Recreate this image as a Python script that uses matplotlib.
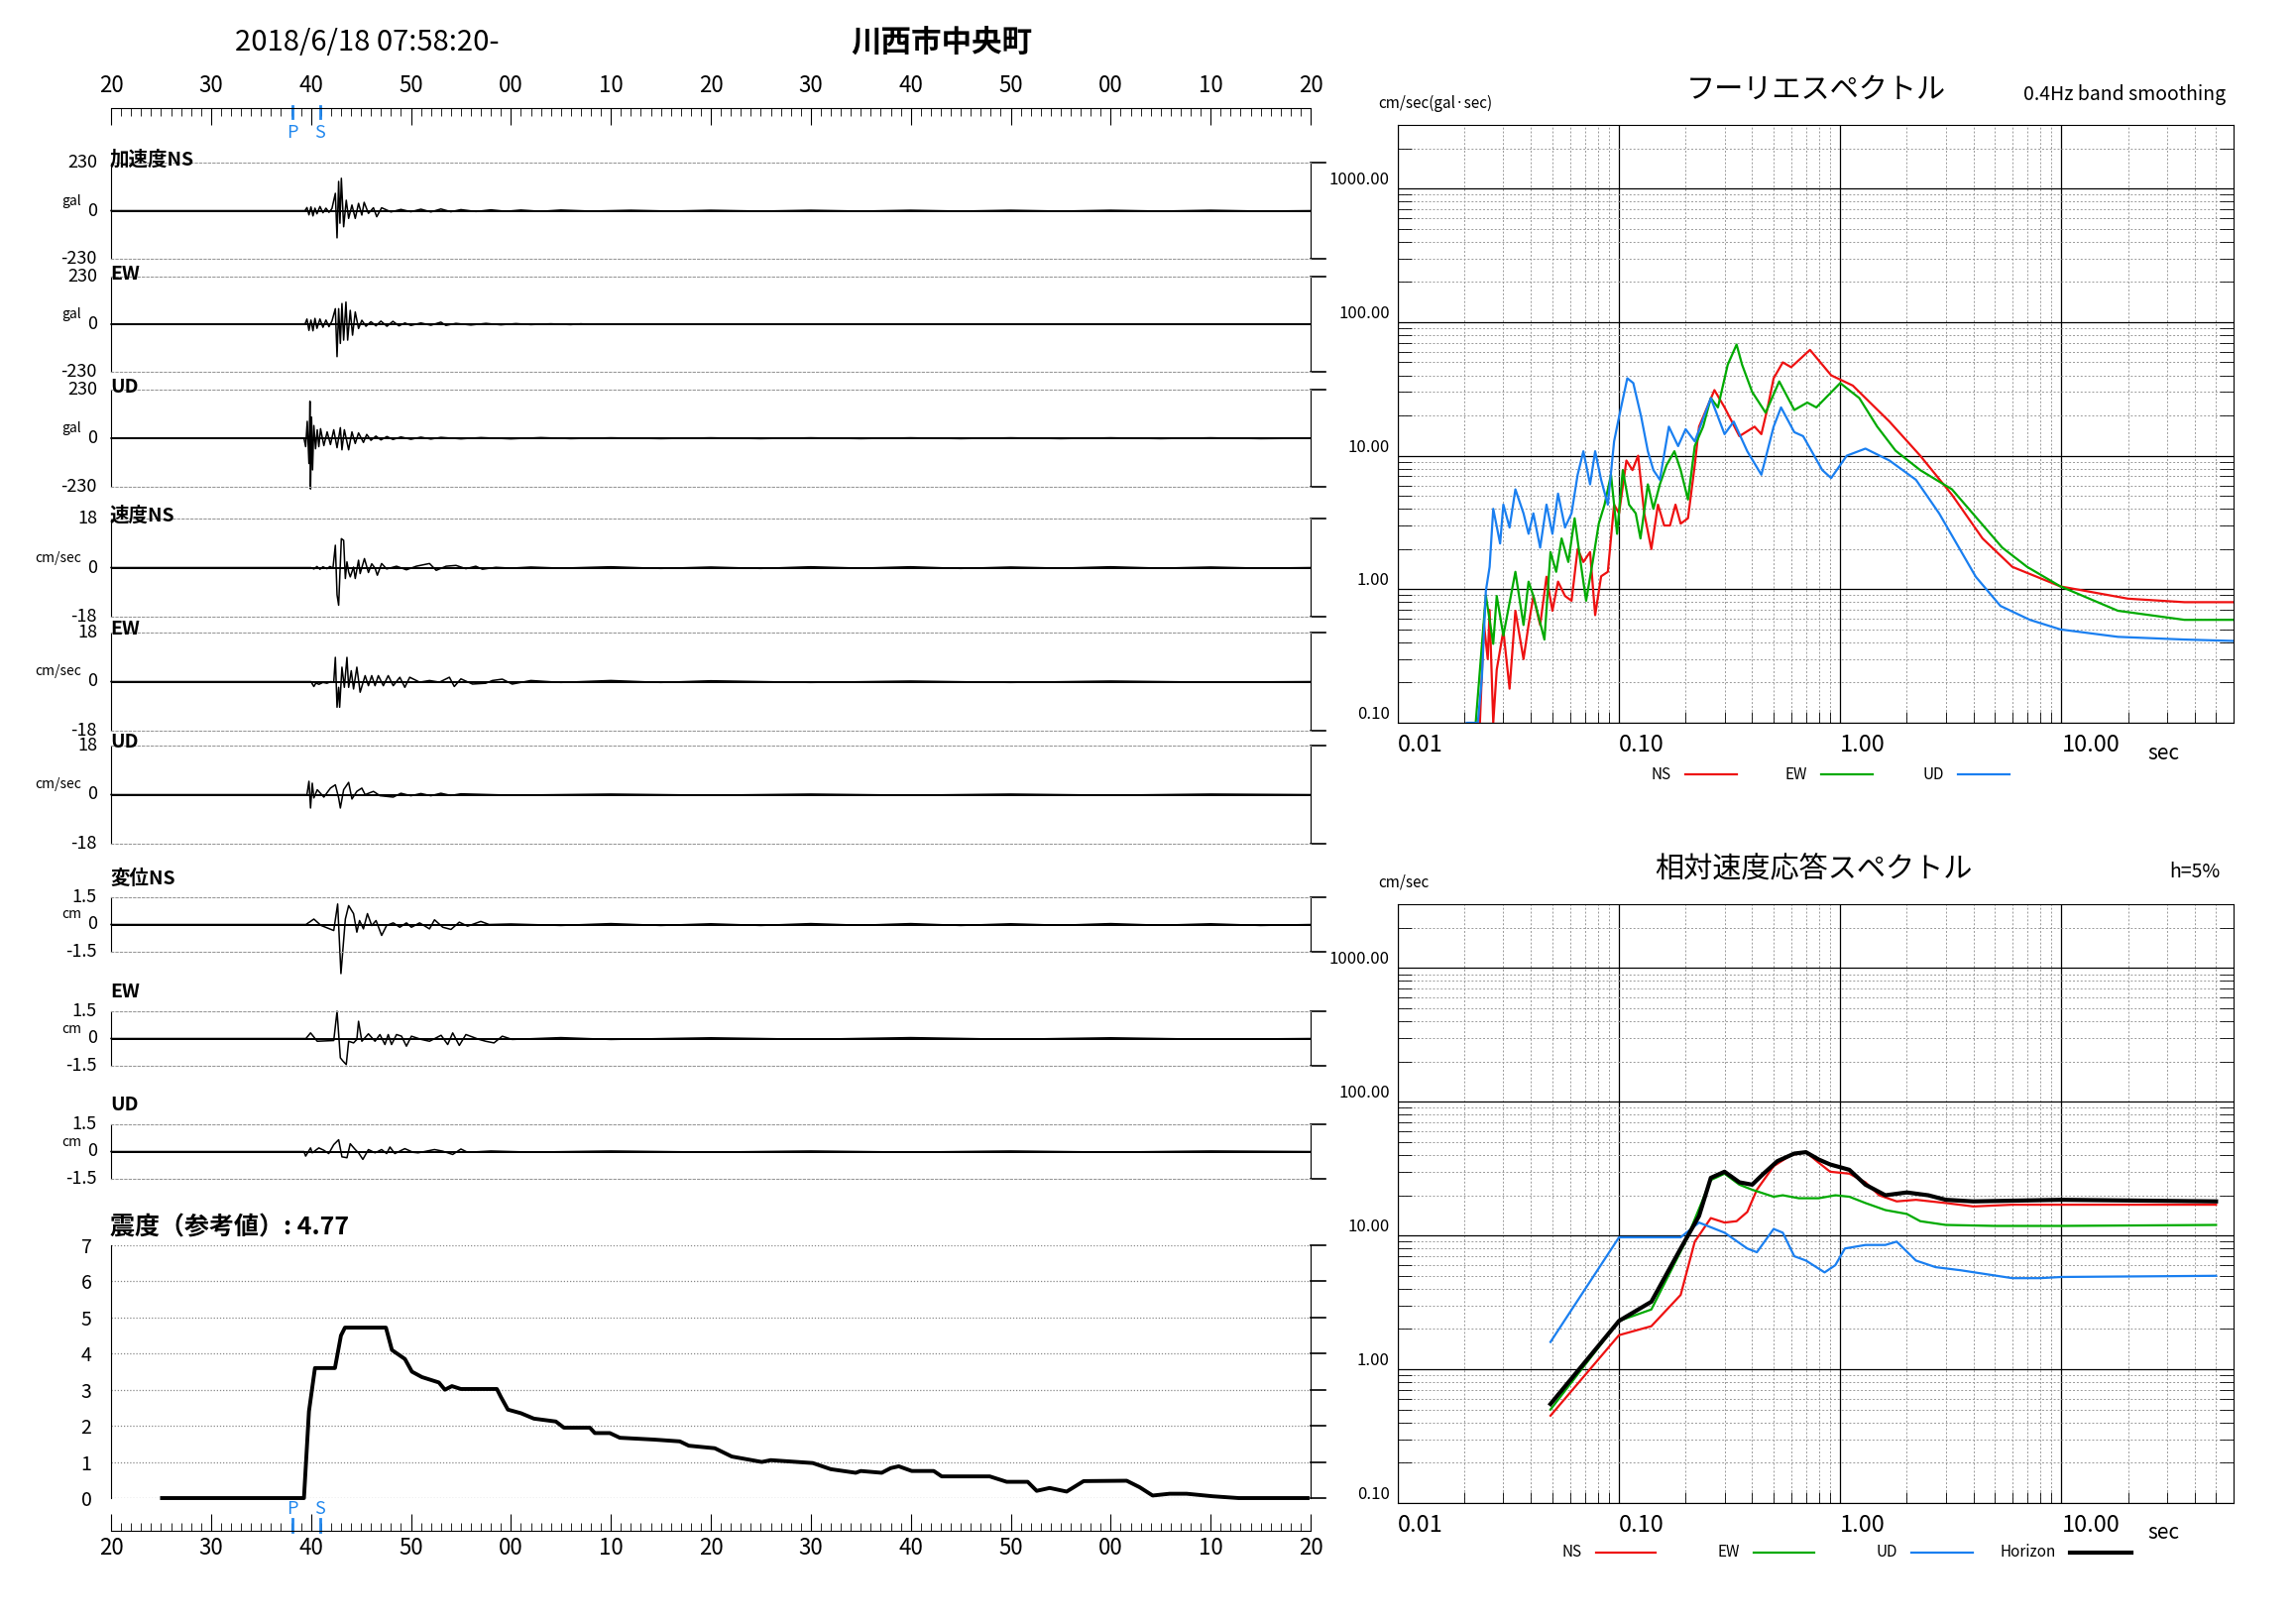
import matplotlib
matplotlib.use("Agg")
import matplotlib.pyplot as plt
import numpy as np
from matplotlib.lines import Line2D

plt.rcParams['font.family'] = ['Noto Sans CJK JP', 'DejaVu Sans']

W, H = 2316, 1637
RED, GREEN, BLUE = '#ee1111', '#00aa00', '#1a7ff0'
PSBLUE = '#2288ee'

# ---------------- data ----------------
time_labels = ["20", "30", "40", "50", "00", "10", "20", "30", "40", "50", "00", "10", "20"]
time_ticks = [0, 10, 20, 30, 40, 50, 60, 70, 80, 90, 100, 110, 120]
p_time, s_time = 18.1, 20.9

acc_ns_t = [0, 19.4, 19.6, 19.8, 20.0, 20.2, 20.4, 20.6, 20.9, 21.2, 21.5, 21.8, 22.1, 22.44, 22.61, 22.77, 22.9, 23.04, 23.27, 23.53, 23.77, 24.1, 24.43, 24.76, 25.09, 25.32, 25.75, 26.25, 26.58, 27.07, 28, 29, 30, 31, 32, 33, 34, 35, 36.5, 38, 39.5, 41, 43, 45, 48, 52, 56, 60, 65, 70, 75, 80, 85, 90, 95, 100, 105, 110, 115, 120]
acc_ns_v = [0, 0, 15, -20, 18, -25, 12, -15, 20, -10, 12, -8, 10, 83, -130, 140, -60, 155, -77, 50, -37, 27, -37, 35, -21, 40, -13, 14, -29, 14, -6, 6, -5, 7, -6, 8, -5, 5, -4, 4, -3, 3, -3, 3, -2, 2, -2, 2, -2, 2, -2, 2, -2, 2, -2, 2, -2, 2, -2, 0]

acc_ew_t = [0, 19.4, 19.6, 19.8, 20.0, 20.2, 20.4, 20.6, 20.9, 21.2, 21.5, 21.8, 22.1, 22.44, 22.61, 22.77, 22.94, 23.1, 23.27, 23.5, 23.67, 23.93, 24.16, 24.43, 24.76, 25.09, 25.5, 26, 26.5, 27, 27.6, 28.2, 28.8, 29.4, 30, 31, 32, 33, 33.5, 34.5, 36, 37.5, 39, 40.5, 42, 44, 46, 47, 48, 49, 120]
acc_ew_v = [0, 0, 25, -30, 20, -32, 28, -20, 25, -15, 20, -12, 15, 75, -157, 75, -93, 100, -77, 107, -77, 67, -53, 59, -21, 19, -10, 12, -8, 15, -10, 14, -8, 6, -6, 6, -5, 10, -6, 4, -4, 4, -3, 3, -2, 2, -2, 2, -1, 0, 0]

acc_ud_t = [0, 19.3, 19.47, 19.63, 19.8, 19.9, 19.96, 20.06, 20.16, 20.29, 20.46, 20.63, 20.79, 20.96, 21.29, 21.62, 21.95, 22.28, 22.61, 22.94, 23.1, 23.34, 23.77, 24.1, 24.43, 24.76, 25.25, 25.58, 26, 26.5, 27, 27.6, 28.2, 29, 30, 31, 32, 33, 35, 37, 40, 43, 46, 50, 55, 60, 65, 70, 75, 80, 85, 90, 95, 100, 105, 110, 115, 120]
acc_ud_v = [0, 0, -40, 80, -120, 175, -240, 100, -150, 60, -50, 40, -40, 45, -35, 30, -30, 40, -45, 50, -55, 40, -55, 30, -25, 25, -20, 18, -10, 10, -8, 8, -6, 6, -5, 5, -4, 4, -3, 3, -3, 3, -2, 2, -2, 2, -2, 2, -2, 2, -2, 2, -2, 2, -2, 2, -2, 0]

vel_ns_t = [0, 20.0, 20.3, 20.6, 20.9, 21.2, 21.6, 21.9, 22.2, 22.44, 22.61, 22.77, 23.04, 23.27, 23.44, 23.6, 23.77, 23.93, 24.26, 24.43, 24.76, 24.92, 25.35, 25.75, 26.08, 26.41, 26.64, 27.07, 27.57, 28.56, 29.55, 30.54, 31.86, 32.53, 33.52, 34.51, 35.5, 36.49, 37.15, 38.5, 40, 42, 45, 50, 55, 60, 65, 70, 75, 80, 85, 90, 95, 100, 105, 110, 115, 120]
vel_ns_v = [0, 0, -0.5, 0.4, -0.6, 0.3, -0.4, 0.4, -0.2, 8.2, -10, -13.8, 10.6, 10, -4, 2.1, -1.6, -3.4, 0.2, -4, 2.7, -2.2, 3.3, -1.8, 1.4, -0.2, -2.8, 1.5, -0.5, 0.5, -0.8, 0.5, 1.5, -1.0, 0.5, 0.8, -0.4, 0.5, -0.6, 0.1, -0.2, 0.2, -0.2, 0.3, -0.3, 0.2, -0.3, 0.3, -0.2, 0.3, -0.3, 0.2, -0.2, 0.3, -0.2, 0.2, -0.2, 0]

vel_ew_t = [0, 20.0, 20.29, 20.5, 20.8, 21.2, 21.6, 22.0, 22.28, 22.44, 22.61, 22.77, 22.87, 23.1, 23.34, 23.6, 23.77, 24.03, 24.26, 24.59, 24.92, 25.42, 25.75, 26.08, 26.41, 26.74, 27.24, 27.73, 28.23, 28.89, 29.39, 29.88, 30.87, 31.86, 32.86, 33.85, 34.34, 35.0, 36.16, 37.48, 38.15, 39.14, 40.13, 42, 45, 50, 55, 60, 70, 80, 90, 100, 110, 120]
vel_ew_v = [0, 0, -1.8, -0.5, -1.0, -0.3, -0.6, 0, -0.2, 8.9, -9.4, -2.1, -9.4, 5.3, -2.1, 8.9, -2.1, 4.0, -2.7, 5.3, -3.9, 2.2, -1.5, 2.2, -1.5, 2.2, -1.5, 2.2, -1.5, 1.6, -2.1, 1.6, -0.2, 0.4, -0.2, 1.6, -1.8, 1.0, -0.9, -0.6, 0.4, 0.9, -0.9, 0.4, -0.3, 0.4, -0.3, 0.3, -0.3, 0.2, -0.3, 0.2, -0.2, 0]

vel_ud_t = [0, 19.6, 19.8, 19.96, 20.13, 20.29, 20.63, 21.29, 21.95, 22.44, 22.77, 22.94, 23.27, 23.77, 24.1, 24.59, 25.09, 25.42, 26.25, 26.9, 28.23, 29, 30, 31, 32, 33, 34, 35, 40, 50, 60, 70, 80, 90, 100, 110, 120]
vel_ud_v = [0, 0, 4.9, -4.9, 4.2, -1.2, 1.8, -0.9, 2.4, 3.6, -1.2, -4.9, 1.8, 4.5, -1.6, 1.2, 2.4, 0, 1.2, -0.4, -0.9, 0.5, -0.4, 0.4, -0.4, 0.5, -0.3, 0.3, -0.2, 0.2, -0.2, 0.2, -0.2, 0.2, -0.2, 0.2, 0]

dis_ns_t = [0, 19.5, 20.29, 21.0, 22.28, 22.67, 23.0, 23.44, 23.77, 24.26, 24.59, 24.86, 25.25, 25.65, 26.08, 26.51, 27.07, 27.57, 28.23, 28.89, 29.55, 30.05, 30.87, 31.86, 32.36, 33.19, 34.01, 34.84, 35.67, 36.99, 37.82, 40, 45, 50, 55, 60, 65, 70, 75, 80, 85, 90, 95, 100, 105, 110, 115, 120]
dis_ns_v = [0, 0, 0.3, -0.05, -0.33, 1.13, -2.7, 0.3, 1.04, 0.6, -0.42, 0.22, -0.24, 0.6, -0.06, 0.22, -0.6, -0.05, 0.09, -0.15, 0.09, -0.15, 0.09, -0.24, 0.26, -0.15, -0.27, 0.13, -0.09, 0.17, 0, 0.03, -0.05, 0.05, -0.05, 0.04, -0.05, 0.05, -0.04, 0.05, -0.05, 0.04, -0.04, 0.05, -0.04, 0.04, -0.05, 0]

dis_ew_t = [0, 19.5, 19.96, 20.63, 22.28, 22.61, 22.94, 23.2, 23.53, 23.77, 24.26, 24.59, 24.76, 25.09, 25.75, 26.41, 26.9, 27.4, 27.73, 28.06, 28.56, 29.06, 29.55, 30.05, 31.04, 31.86, 33.02, 33.68, 34.18, 34.84, 35.5, 36.82, 37.48, 38.31, 39.14, 40.13, 45, 50, 60, 70, 80, 90, 100, 110, 120]
dis_ew_v = [0, 0, 0.31, -0.15, -0.11, 1.5, -1.06, -1.24, -1.43, -0.15, -0.24, -0.05, 0.95, -0.15, 0.26, -0.15, 0.22, -0.33, 0.22, -0.33, 0.22, 0.13, -0.42, 0.13, -0.05, -0.15, 0.18, -0.33, 0.31, -0.38, 0.22, -0.05, -0.15, -0.24, 0.13, -0.05, 0.05, -0.05, 0.04, -0.04, 0.05, -0.04, 0.04, -0.04, 0]

dis_ud_t = [0, 19.3, 19.47, 19.96, 20.13, 20.79, 21.29, 21.78, 22.28, 22.77, 23.1, 23.6, 23.93, 24.43, 24.76, 25.19, 25.75, 26.41, 27.07, 27.57, 27.9, 28.39, 29.39, 30.21, 30.71, 32.36, 33.19, 34.18, 35.0, 35.67, 38, 42, 50, 60, 70, 80, 90, 100, 110, 120]
dis_ud_v = [0, 0, -0.25, 0.2, -0.07, 0.2, 0.07, -0.11, 0.38, 0.65, -0.29, -0.34, 0.43, 0.11, -0.07, -0.43, 0.11, -0.07, 0.11, -0.11, 0.25, -0.11, 0.16, -0.04, -0.07, 0.11, 0.02, -0.16, 0.14, -0.04, 0.03, -0.03, 0.03, -0.03, 0.03, -0.03, 0.03, -0.03, 0.03, 0]

int_t = [5.1, 19.3, 19.8, 20.4, 22.4, 23.0, 23.4, 27.5, 28.1, 29.4, 30.1, 31.1, 32.8, 33.4, 34.1, 35.0, 38.6, 39.0, 39.7, 41.0, 42.3, 44.5, 45.3, 47.9, 48.4, 49.9, 50.9, 54.3, 56.9, 57.8, 60.4, 62.1, 65.1, 66.0, 70.2, 72.0, 74.5, 75.0, 77.1, 78.0, 78.8, 80.1, 82.3, 83.1, 87.9, 89.6, 91.7, 92.6, 93.9, 95.6, 97.3, 101.6, 102.9, 104.2, 105.9, 107.6, 110.2, 112.8, 119.7]
int_v = [0, 0, 2.4, 3.6, 3.6, 4.5, 4.72, 4.72, 4.1, 3.85, 3.5, 3.35, 3.2, 3.0, 3.1, 3.02, 3.02, 2.8, 2.45, 2.35, 2.2, 2.12, 1.95, 1.95, 1.8, 1.8, 1.67, 1.62, 1.57, 1.45, 1.38, 1.15, 1.0, 1.05, 0.97, 0.8, 0.7, 0.75, 0.7, 0.83, 0.88, 0.75, 0.75, 0.6, 0.6, 0.45, 0.45, 0.2, 0.28, 0.18, 0.47, 0.48, 0.3, 0.07, 0.12, 0.12, 0.05, 0.0, 0.0]

fs_ns_T = [0.0235, 0.0245, 0.0255, 0.026, 0.027, 0.028, 0.030, 0.032, 0.034, 0.037, 0.039, 0.041, 0.044, 0.047, 0.050, 0.053, 0.057, 0.061, 0.065, 0.069, 0.074, 0.078, 0.083, 0.089, 0.095, 0.100, 0.108, 0.115, 0.122, 0.130, 0.140, 0.150, 0.160, 0.170, 0.180, 0.190, 0.205, 0.220, 0.230, 0.270, 0.300, 0.350, 0.410, 0.440, 0.470, 0.500, 0.550, 0.600, 0.730, 0.910, 1.14, 1.67, 2.3, 3.2, 4.4, 6.0, 9.9, 20, 36, 60]
fs_ns_V = [0.1, 0.55, 0.3, 0.7, 0.1, 0.25, 0.49, 0.18, 0.69, 0.3, 0.54, 0.89, 0.54, 1.24, 0.69, 1.14, 0.89, 0.82, 2.0, 1.6, 1.9, 0.64, 1.25, 1.35, 4.3, 3.7, 9.2, 7.8, 10, 3.7, 2.0, 4.3, 3.0, 3.0, 4.3, 3.1, 3.4, 8.5, 16.5, 31, 23, 14, 16.5, 14.5, 23, 38, 50, 46, 62, 40, 33.5, 18, 10, 5.1, 2.4, 1.47, 1.05, 0.85, 0.8, 0.8]

fs_ew_T = [0.0225, 0.025, 0.027, 0.028, 0.030, 0.034, 0.037, 0.039, 0.041, 0.046, 0.049, 0.052, 0.055, 0.059, 0.063, 0.067, 0.071, 0.076, 0.081, 0.086, 0.092, 0.098, 0.104, 0.111, 0.119, 0.125, 0.135, 0.143, 0.153, 0.164, 0.178, 0.19, 0.205, 0.22, 0.24, 0.26, 0.28, 0.31, 0.34, 0.36, 0.40, 0.46, 0.53, 0.62, 0.71, 0.78, 1.0, 1.22, 1.47, 1.78, 2.3, 3.2, 5.4, 7.0, 9.9, 18, 36, 60]
fs_ew_V = [0.1, 0.9, 0.39, 0.89, 0.45, 1.35, 0.54, 1.14, 0.89, 0.42, 1.9, 1.35, 2.4, 1.6, 3.4, 1.6, 0.82, 1.6, 3.1, 4.3, 7.2, 2.6, 7.8, 4.3, 3.7, 2.4, 6.1, 4.0, 6.1, 8.5, 10.8, 7.8, 4.7, 11.8, 16.5, 27, 23, 48, 68, 48, 30, 21, 36, 22, 25, 23, 35, 27, 16.5, 10.9, 7.8, 5.6, 2.05, 1.47, 1.05, 0.69, 0.59, 0.59]

fs_ud_T = [0.0205, 0.023, 0.024, 0.025, 0.026, 0.027, 0.029, 0.030, 0.032, 0.034, 0.037, 0.039, 0.041, 0.044, 0.047, 0.050, 0.053, 0.057, 0.061, 0.065, 0.069, 0.074, 0.078, 0.083, 0.089, 0.095, 0.100, 0.109, 0.116, 0.126, 0.135, 0.143, 0.153, 0.168, 0.185, 0.20, 0.22, 0.26, 0.30, 0.33, 0.38, 0.44, 0.50, 0.54, 0.62, 0.68, 0.83, 0.91, 1.07, 1.3, 1.67, 2.2, 2.8, 4.1, 5.3, 7.2, 9.9, 18, 36, 60]
fs_ud_V = [0.1, 0.1, 0.22, 0.97, 1.47, 4.0, 2.2, 4.3, 2.9, 5.6, 3.7, 2.6, 3.7, 2.05, 4.3, 2.6, 5.2, 2.9, 3.7, 7.2, 10.8, 6.1, 10.8, 6.6, 4.3, 12.8, 19.5, 38, 35, 19.5, 10.8, 7.8, 6.6, 16.5, 11.8, 15.8, 12.8, 27, 14.5, 18, 10.8, 7.2, 16.5, 23, 15, 14, 7.8, 6.8, 10, 11.3, 9.2, 6.6, 3.7, 1.24, 0.75, 0.59, 0.5, 0.44, 0.42, 0.41]

rs_ns_T = [0.049, 0.1, 0.14, 0.19, 0.22, 0.26, 0.3, 0.34, 0.38, 0.42, 0.5, 0.6, 0.7, 0.8, 0.9, 1.1, 1.3, 1.5, 1.8, 2.2, 3, 4, 6, 10, 50]
rs_ns_V = [0.45, 1.8, 2.1, 3.6, 9, 13.5, 12.5, 12.8, 15, 22, 33, 40, 42, 35, 30, 29, 25, 20, 18, 18.5, 17.5, 16.5, 17, 17, 17]
rs_ew_T = [0.049, 0.1, 0.14, 0.2, 0.26, 0.3, 0.35, 0.4, 0.5, 0.55, 0.65, 0.8, 0.95, 1.1, 1.3, 1.6, 2.0, 2.3, 3, 5, 10, 50]
rs_ew_V = [0.5, 2.3, 2.8, 9, 26, 29, 24, 22, 19.5, 20, 19, 19, 20, 19.5, 17.5, 15.5, 14.5, 12.8, 12, 11.8, 11.8, 12]
rs_ud_T = [0.049, 0.1, 0.19, 0.23, 0.3, 0.38, 0.42, 0.5, 0.55, 0.62, 0.7, 0.85, 0.95, 1.05, 1.3, 1.6, 1.8, 2.2, 2.7, 3.5, 6, 8, 10, 50]
rs_ud_V = [1.6, 9.7, 9.7, 12.5, 10.5, 8, 7.5, 11.2, 10.5, 7, 6.5, 5.3, 6, 8, 8.5, 8.5, 9, 6.5, 5.8, 5.5, 4.8, 4.8, 4.9, 5]
rs_h_T = [0.049, 0.1, 0.14, 0.19, 0.23, 0.26, 0.3, 0.35, 0.4, 0.45, 0.52, 0.62, 0.7, 0.8, 0.9, 1.1, 1.3, 1.6, 2.0, 2.5, 3, 4, 10, 50]
rs_h_V = [0.55, 2.3, 3.2, 8, 14, 27, 30, 25, 24, 29, 36, 41, 42, 37, 34, 31, 24, 20, 21, 20, 18.5, 18, 18.5, 18]

# ---------------- helpers ----------------
fig = plt.figure(figsize=(W / 100, H / 100), dpi=100)


def rect(x0, y0, x1, y1):
    return [x0 / W, 1 - y1 / H, (x1 - x0) / W, (y1 - y0) / H]


def ftext(x, y, s, **kw):
    fig.text(x / W, 1 - y / H, s, **kw)


XL, XR = 112, 1322

ftext(370, 43, "2018/6/18 07:58:20-", fontsize=21, ha='center', va='center')
ftext(950, 43, "川西市中央町", fontsize=22, ha='center', va='center', fontweight='bold')


def ruler(y0, y1, top):
    ax = fig.add_axes(rect(XL, y0, XR, y1))
    ax.set_xlim(0, 120)
    ax.set_ylim(0, 1)
    for s in ax.spines.values():
        s.set_visible(False)
    ax.spines['top' if top else 'bottom'].set_visible(True)
    ax.set_yticks([])
    ax.set_xticks(time_ticks)
    ax.set_xticks(np.arange(0, 121, 1), minor=True)
    ax.set_xticklabels(time_labels, fontsize=16)
    if top:
        ax.tick_params(axis='x', which='both', direction='in', top=True, bottom=False,
                       labeltop=True, labelbottom=False)
        ax.tick_params(axis='x', which='major', length=12, pad=8)
        ax.tick_params(axis='x', which='minor', length=6)
    else:
        ax.tick_params(axis='x', which='both', direction='in', top=False, bottom=True)
        ax.tick_params(axis='x', which='major', length=12, pad=4)
        ax.tick_params(axis='x', which='minor', length=6)
    return ax


rt = ruler(109, 135, True)
for tt, lab in [(p_time, "P"), (s_time, "S")]:
    rt.plot([tt, tt], [1.08, 0.6], color=PSBLUE, lw=2, clip_on=False)
    rt.text(tt, 0.05, lab, color=PSBLUE, fontsize=13, ha='center', va='center')

panels = [
    (164, 261, 230, "加速度NS", "gal", acc_ns_t, acc_ns_v, 0),
    (279, 375, 230, "EW", "gal", acc_ew_t, acc_ew_v, 0),
    (393, 491, 230, "UD", "gal", acc_ud_t, acc_ud_v, 0),
    (523, 622, 18, "速度NS", "cm/sec", vel_ns_t, vel_ns_v, 0),
    (638, 737, 18, "EW", "cm/sec", vel_ew_t, vel_ew_v, 0),
    (752, 851, 18, "UD", "cm/sec", vel_ud_t, vel_ud_v, 0),
    (905, 960, 1.5, "変位NS", "cm", dis_ns_t, dis_ns_v, 16),
    (1020, 1075, 1.5, "EW", "cm", dis_ew_t, dis_ew_v, 16),
    (1134, 1189, 1.5, "UD", "cm", dis_ud_t, dis_ud_v, 16),
]
for top, bot, amp, title, unit, tt, vv, toff in panels:
    ax = fig.add_axes(rect(XL, top, XR, bot))
    ax.set_xlim(0, 120)
    ax.set_ylim(-amp, amp)
    ax.set_xticks([]); ax.set_yticks([])
    for k in ('top', 'bottom'):
        ax.spines[k].set_linestyle((0, (2, 2)))
        ax.spines[k].set_color('#999999')
    ax.axhline(0, color='black', lw=1.4)
    ax.plot(tt, vv, color='black', lw=1.1, clip_on=False)
    for yy in (0, 1):
        ax.plot([1, 1.012], [yy, yy], transform=ax.transAxes, color='black', lw=1.2, clip_on=False)
    zero = (top + bot) / 2
    amp_s = ("%g" % amp)
    ftext(98, top, amp_s, fontsize=13, ha='right', va='center')
    ftext(98, zero, "0", fontsize=13, ha='right', va='center')
    ftext(98, bot, "-" + amp_s, fontsize=13, ha='right', va='center')
    ftext(82, zero - 10, unit, fontsize=10, ha='right', va='center')
    ftext(111, top - 3 - toff, title, fontsize=14, ha='left', va='center', fontweight='bold')

ftext(111, 1238, "震度（参考値）: 4.77", fontsize=18, ha='left', va='center', fontweight='bold')
ai = fig.add_axes(rect(XL, 1256, XR, 1511))
ai.set_xlim(0, 120)
ai.set_ylim(0, 7)
ai.set_xticks([])
ai.set_yticks(range(8))
ai.set_yticklabels([str(i) for i in range(8)], fontsize=14)
ai.tick_params(axis='y', length=0, pad=14)
for k in ('top', 'bottom'):
    ai.spines[k].set_visible(False)
for i in range(8):
    ai.axhline(i, color='#888888', lw=0.9, ls=(0, (1, 1.5)))
    ai.plot([1, 1.012], [i, i], transform=ai.get_yaxis_transform(), color='black', lw=1.2, clip_on=False)
ai.plot(int_t, int_v, color='black', lw=2.8, clip_on=False)

rb = ruler(1520, 1544, False)
for tt, lab in [(p_time, "P"), (s_time, "S")]:
    rb.plot([tt, tt], [-0.05, 0.5], color=PSBLUE, lw=2, clip_on=False)
    rb.text(tt, 0.9, lab, color=PSBLUE, fontsize=13, ha='center', va='center')


def spec_axes(y0, y1):
    ax = fig.add_axes(rect(1410, y0, 2253, y1))
    ax.set_xscale('log'); ax.set_yscale('log')
    ax.set_xlim(0.01, 60)
    ax.set_ylim(0.1, 3000)
    ax.grid(True, which='major', color='black', lw=0.9)
    ax.grid(True, which='minor', color='#999999', lw=0.7, ls=(0, (2, 2)))
    ax.set_yticks([0.1, 1, 10, 100, 1000])
    ax.set_yticklabels(["0.10", "1.00", "10.00", "100.00", "1000.00"], fontsize=12)
    ax.set_xticks([0.01, 0.1, 1, 10])
    ax.set_xticklabels(["0.01", "0.10", "1.00", "10.00"], fontsize=17, ha='left')
    ax.tick_params(which='both', direction='in', left=True, right=True, top=False, bottom=True)
    ax.tick_params(which='major', length=0)
    ax.tick_params(axis='y', which='minor', length=10)
    ax.tick_params(axis='x', which='minor', length=8)
    ax.tick_params(axis='x', pad=8)
    ax.tick_params(axis='y', pad=6)
    for lab in ax.get_yticklabels():
        lab.set_va('bottom')
    ax.set_axisbelow(True)
    return ax


af = spec_axes(126, 729)
af.plot(fs_ns_T, fs_ns_V, color=RED, lw=1.6)
af.plot(fs_ew_T, fs_ew_V, color=GREEN, lw=1.6)
af.plot(fs_ud_T, fs_ud_V, color=BLUE, lw=1.6)
ftext(1832, 91, "フーリエスペクトル", fontsize=21, ha='center', va='center')
ftext(2245, 95, "0.4Hz band smoothing", fontsize=14, ha='right', va='center')
ftext(1390, 104, "cm/sec(gal·sec)", fontsize=11, ha='left', va='center')
ftext(2166, 760, "sec", fontsize=15, ha='left', va='center')

ar = spec_axes(912, 1516)
ar.plot(rs_ns_T, rs_ns_V, color=RED, lw=1.6)
ar.plot(rs_ew_T, rs_ew_V, color=GREEN, lw=1.6)
ar.plot(rs_ud_T, rs_ud_V, color=BLUE, lw=1.6)
ar.plot(rs_h_T, rs_h_V, color='black', lw=3.0)
ftext(1829, 877, "相対速度応答スペクトル", fontsize=21, ha='center', va='center')
ftext(2240, 880, "h=5%", fontsize=14, ha='right', va='center')
ftext(1390, 890, "cm/sec", fontsize=11, ha='left', va='center')
ftext(2166, 1546, "sec", fontsize=15, ha='left', va='center')


def legend_item(xl0, xl1, y, label, color, lw=1.6):
    ftext(xl0 - 14, y, label, fontsize=11, ha='right', va='center')
    fig.add_artist(Line2D([xl0 / W, xl1 / W], [1 - y / H, 1 - y / H], color=color, lw=lw))


legend_item(1700, 1752, 781, "NS", RED)
legend_item(1837, 1889, 781, "EW", GREEN)
legend_item(1975, 2027, 781, "UD", BLUE)
legend_item(1610, 1670, 1566, "NS", RED)
legend_item(1769, 1830, 1566, "EW", GREEN)
legend_item(1928, 1990, 1566, "UD", BLUE)
legend_item(2088, 2150, 1566, "Horizon", 'black', 3.0)

fig.savefig("out.png", dpi=100)
